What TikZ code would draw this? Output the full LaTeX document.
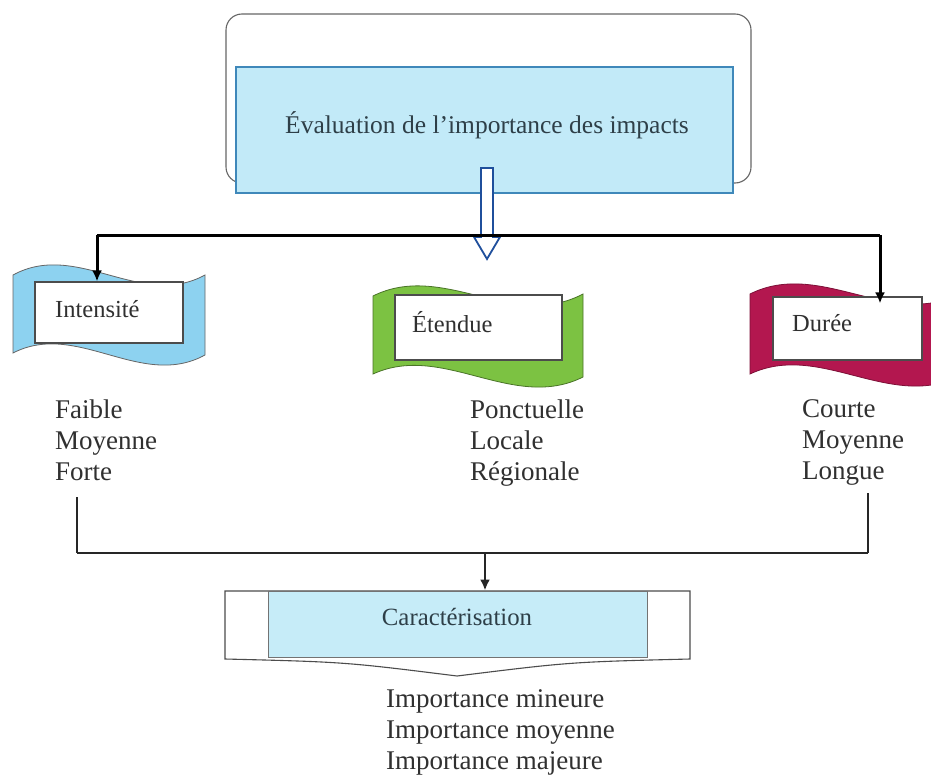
\documentclass[tikz,border=0pt]{standalone}
\usepackage{fontspec}
\setmainfont{Liberation Serif}
\usetikzlibrary{arrows.meta}
\definecolor{txt}{HTML}{303030}
\definecolor{txtb}{HTML}{2E3F48}
\definecolor{titlefill}{HTML}{C2EAF8}
\definecolor{titleedge}{HTML}{3F88BA}
\definecolor{bannerblue}{HTML}{8DD2F0}
\definecolor{bannergreen}{HTML}{7CC242}
\definecolor{bannerred}{HTML}{B3174F}
\definecolor{hollowblue}{HTML}{1F4F9C}
\definecolor{carfill}{HTML}{C6ECF8}
\begin{document}
\begin{tikzpicture}[x=1pt,y=-1pt,
  listtext/.style={font=\fontsize{27}{31}\selectfont, text=txt, align=left, inner sep=0pt, anchor=north west},
  labeltext/.style={font=\fontsize{24.5}{28}\selectfont, text=txt, inner sep=0pt, anchor=base west},
  labelbox/.style={draw=black!70, line width=1.1pt, fill=white, inner sep=0pt},
  connector/.style={line width=3pt, black},
  lowline/.style={line width=2.4pt, black!85},
  arr/.style={-{Latex[length=11pt,width=10pt]}}
]
\useasboundingbox (0,0) rectangle (931,778);
\fill[white] (0,0) rectangle (931,778);

% top frame and title box
\draw[black!60, line width=1.1pt, rounded corners=16pt, fill=white] (226,14) rectangle (751,183);
\node[draw=titleedge, line width=2pt, fill=titlefill, minimum width=497pt, minimum height=126pt, inner sep=0pt] (titlebox) at (484.5,130) {};
\node[font=\fontsize{25.5}{30}\selectfont, text=txtb, inner sep=0pt] (title) at (487,125) {Évaluation de l’importance des impacts};

% hollow arrow
\draw[hollowblue, line width=1.8pt, fill=white, line join=miter]
  (481,168) -- (493,168) -- (493,237) -- (500,237) -- (487,259) -- (474,237) -- (481,237) -- cycle;

% top connector
\coordinate (jl) at (97,235);
\coordinate (jr) at (880,235);

% banners
\draw[fill=bannerblue, draw=black!60, line width=0.8pt]
  (13,275) .. controls (77,240) and (141,310) .. (205,275) -- (205,355)
  .. controls (141,390) and (77,320) .. (13,353) -- cycle;
\draw[fill=bannergreen, draw=bannergreen!60!black, line width=0.8pt]
  (373,296) .. controls (443,261) and (513,331) .. (583,294) -- (583,377)
  .. controls (513,412) and (443,342) .. (373,374) -- cycle;
\draw[fill=bannerred, draw=bannerred!70!black, line width=0.8pt]
  (750,294) .. controls (820,259) and (890,329) .. (960,294) -- (960,376)
  .. controls (890,411) and (820,341) .. (750,374) -- cycle;

\node[labelbox, minimum width=148pt, minimum height=61pt] (intbox) at (109,312.5) {};
\node[labelbox, minimum width=167pt, minimum height=65pt] (etbox) at (478.5,327.5) {};
\node[labelbox, minimum width=149pt, minimum height=63pt] (durbox) at (847.5,328.5) {};

\node[labeltext] (intl) at (55,317) {Intensité};
\node[labeltext] (etl) at (412,332) {Étendue};
\node[labeltext] (durl) at (792,331) {Durée};

\draw[connector] (jl) -- (jr);
\draw[connector, arr] (jl) -- (jl |- intbox.north);
\draw[connector, arr] (jr) -- ([yshift=-7pt]jr |- durbox.north);

% lists
\node[listtext] (intlist) at (55,400) {Faible\\Moyenne\\Forte};
\node[listtext] (etlist) at (470,400) {Ponctuelle\\Locale\\Régionale};
\node[listtext] (durlist) at (802,399) {Courte\\Moyenne\\Longue};

% lower connectors
\coordinate (bl) at (77,553);
\coordinate (br) at (868,553);
\coordinate (bm) at (485,553);
\coordinate (lt) at (77,497);
\coordinate (rt) at (868,493);
\draw[lowline] (lt) -- (bl);
\draw[lowline] (rt) -- (br);
\draw[lowline] (bl) -- (br);

% caracterisation box
\draw[black!70, line width=1.1pt, fill=white]
  (225,591) -- (690,591) -- (690,659) .. controls (570,662) .. (457,676)
  .. controls (345,662) .. (225,659) -- cycle;
\node[draw=black!55, line width=1pt, fill=carfill, minimum width=379pt, minimum height=66pt, inner sep=0pt] (carbox) at (457.5,624) {};
\node[font=\fontsize{24.8}{28}\selectfont, text=txtb, inner sep=0pt, anchor=base] (cartxt) at (457,625) {Caractérisation};
\draw[lowline, arr] (bm) -- (bm |- carbox.north);

\node[listtext] (implist) at (386,689) {Importance mineure\\Importance moyenne\\Importance majeure};
\end{tikzpicture}
\end{document}
